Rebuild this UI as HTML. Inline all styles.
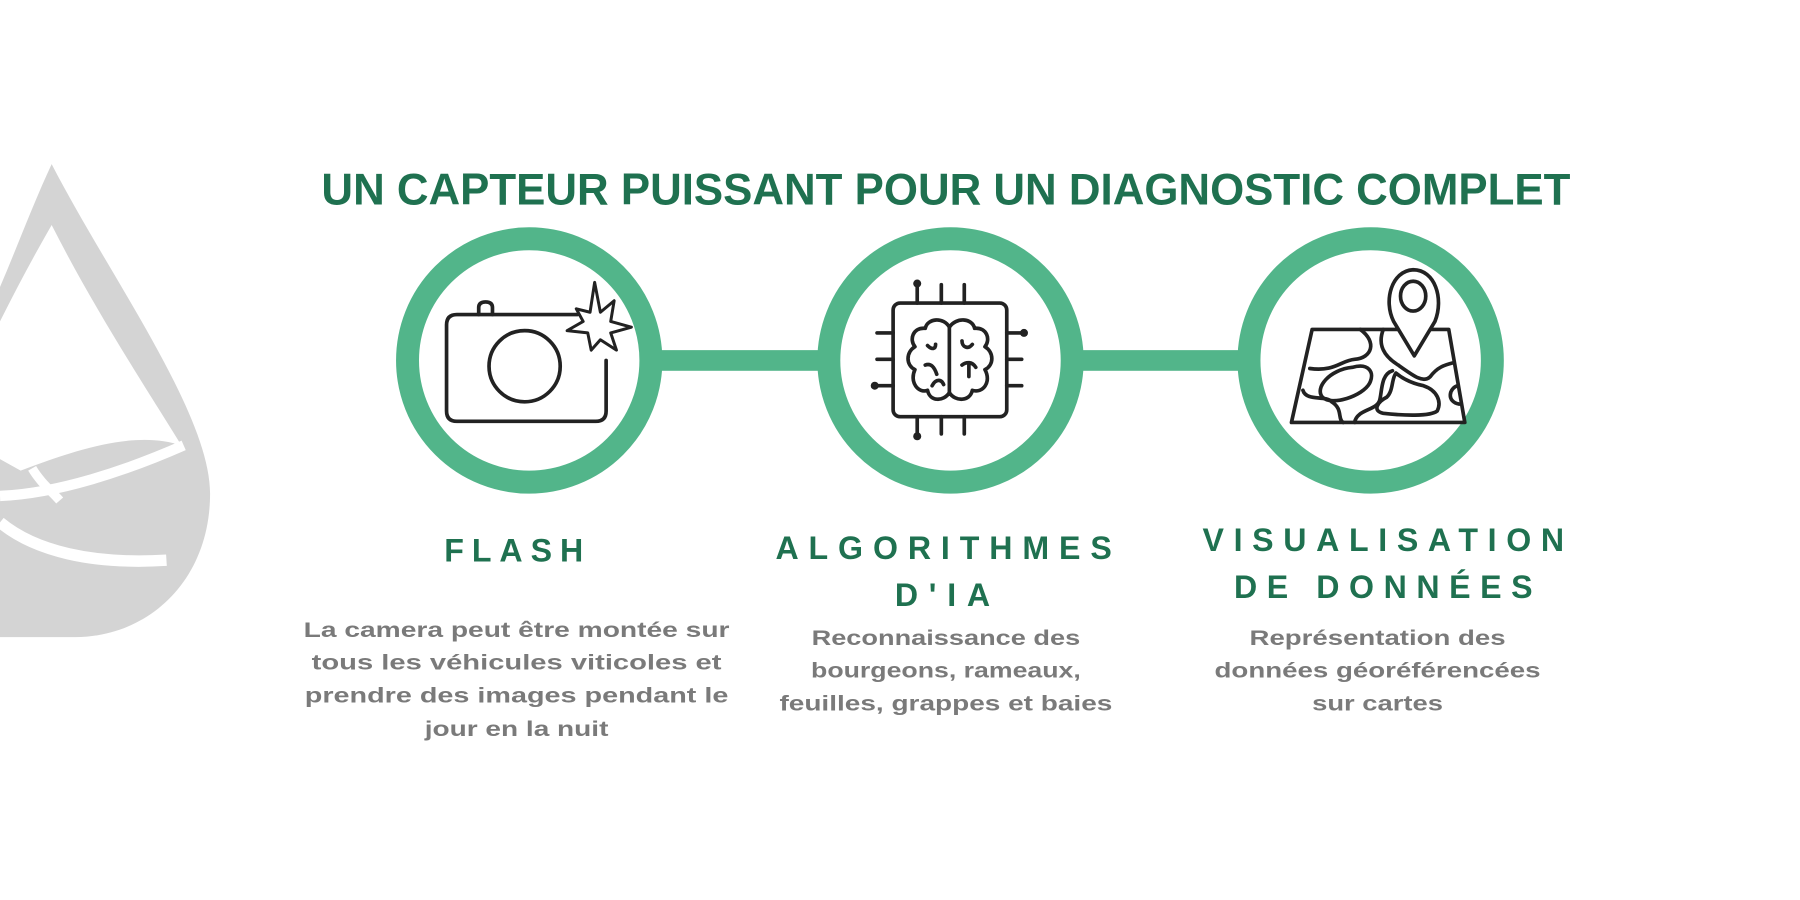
<!DOCTYPE html>
<html><head><meta charset="utf-8"><style>
html,body{margin:0;padding:0;background:#fff;width:1800px;height:900px;overflow:hidden}
svg{display:block}
.t{font-family:"Liberation Sans",sans-serif;font-weight:bold;fill:#1f7150}
.b{font-family:"Liberation Sans",sans-serif;font-weight:bold;fill:#7a7a7a;font-size:18.5px}
.h{font-family:"Liberation Sans",sans-serif;font-weight:bold;fill:#1f7150;font-size:28px}
.ic{fill:none;stroke:#222;stroke-width:3.2;stroke-linecap:round;stroke-linejoin:round}
</style></head><body>
<svg width="1800" height="900" viewBox="0 0 1568 784" xmlns="http://www.w3.org/2000/svg">
<!-- droplet -->
<path d="M45,143 C95,240 183,360 183,430 C183,505 130,555 65,555 L0,555 L0,250 C15,215 30,175 45,143 Z" fill="#d4d4d4"/>
<path d="M45,196 C85,275 135,350 158,388 C120,375 70,390 18,410 L0,400 L0,280 C15,250 30,222 45,196 Z" fill="#fff"/>
<path d="M0,432 C50,430 110,410 160,388" stroke="#fff" stroke-width="9" fill="none"/>
<path d="M28,408 C35,420 45,428 52,436" stroke="#fff" stroke-width="8" fill="none"/>
<path d="M0,455 C30,480 80,492 145,488" stroke="#fff" stroke-width="10" fill="none"/>
<!-- title -->
<text class="t" x="824" y="178" font-size="39" text-anchor="middle" textLength="1088" lengthAdjust="spacingAndGlyphs">UN CAPTEUR PUISSANT POUR UN DIAGNOSTIC COMPLET</text>
<!-- connectors -->
<rect x="560" y="305" width="720" height="18" fill="#52b58a"/>
<!-- circles -->
<circle cx="461" cy="314" r="106" fill="#fff" stroke="#52b58a" stroke-width="20"/>
<circle cx="828" cy="314" r="106" fill="#fff" stroke="#52b58a" stroke-width="20"/>
<circle cx="1194" cy="314" r="106" fill="#fff" stroke="#52b58a" stroke-width="20"/>
<!-- camera -->
<g class="ic">
<path d="M503,274 L398,274 Q389,274 389,283 L389,358 Q389,367 398,367 L519,367 Q528,367 528,358 L528,314"/>
<path d="M417,274 L417,268 Q417,263 423,263 Q429,263 429,268 L429,274"/>
<ellipse cx="457" cy="319" rx="31" ry="31"/>
<path d="M518,246 L523,272 L535,262 L532,280 L550,285 L532,290 L537,305 L523,296 L515,305 L512,290 L494,288 L508,280 L502,269 L514,272 Z" stroke-width="2.6"/>
</g>
<!-- chip -->
<g class="ic">
<rect x="778" y="264" width="99" height="99" rx="6"/>
<path d="M799,264 V248 M820,264 V248 M840,264 V248 M799,363 V378 M820,363 V378 M840,363 V378 M778,290 H764 M778,313 H764 M778,336 H764 M877,290 H890 M877,313 H890 M877,336 H890"/>
<path d="M827,285 C822,276 808,277 806,286 C795,285 792,296 797,302 C789,307 789,318 797,322 C792,333 800,343 808,340 C810,350 822,350 827,342 C832,350 845,350 847,340 C856,343 864,333 858,322 C866,318 866,307 858,302 C863,296 860,285 849,286 C847,277 833,276 827,285 Z"/>
<path d="M827,285 V342 M808,301 C812,305 815,304 815,300 M806,318 C811,316 814,320 816,326 M847,300 C843,305 838,302 838,297 M838,318 C842,315 847,315 850,320 M844,318 V328 M812,336 C815,330 820,330 822,335"/>
</g>
<g fill="#222"><circle cx="799" cy="247" r="3.5"/><circle cx="799" cy="380" r="3.5"/><circle cx="892" cy="290" r="3.5"/><circle cx="762" cy="336" r="3.5"/></g>
<!-- map -->
<g class="ic" stroke-width="2.8">
<path d="M1143,287 L1262,287 L1276,368 L1125,368 Z" fill="#fff"/>
<path d="M1185,287 C1200,298 1195,312 1180,313 C1168,314 1163,324 1141,321"/>
<path d="M1205,287 C1200,300 1205,310 1218,318 C1232,328 1240,334 1246,328 C1252,320 1258,318 1266,316"/>
<path d="M1178,320 C1192,316 1198,324 1193,334 C1187,345 1160,354 1152,346 C1145,338 1158,322 1178,320 Z"/>
<path d="M1213,323 C1203,326 1204,340 1202,348 C1200,358 1182,356 1180,368 M1135,340 C1138,350 1155,344 1160,350 C1170,356 1165,365 1170,368"/>
<path d="M1216,325 C1222,330 1230,334 1240,336 C1252,340 1256,350 1252,358 C1246,363 1222,362 1205,360 C1195,358 1200,350 1208,346 C1214,340 1212,330 1216,325 Z"/>
<path d="M1270,336 C1262,338 1260,350 1271,352"/>
<path d="M1232,310 L1214,280 C1205,262 1212,236 1231,235 C1250,235 1258,260 1250,280 Z" fill="#fff"/>
<ellipse cx="1231" cy="258" rx="11" ry="13"/>
</g>
<!-- headers -->
<text class="h" x="451" y="489" text-anchor="middle" textLength="128" lengthAdjust="spacing" letter-spacing="7">FLASH</text>
<text class="h" x="822" y="487" text-anchor="middle" textLength="293" lengthAdjust="spacing">ALGORITHMES</text>
<text class="h" x="821" y="528" text-anchor="middle" textLength="83" lengthAdjust="spacing">D'IA</text>
<text class="h" x="1205" y="480" text-anchor="middle" textLength="315" lengthAdjust="spacing">VISUALISATION</text>
<text class="h" x="1205" y="521" text-anchor="middle" textLength="260" lengthAdjust="spacing">DE DONNÉES</text>
<!-- body -->
<text class="b" x="450" y="555" text-anchor="middle" textLength="371" lengthAdjust="spacingAndGlyphs">La camera peut être montée sur</text>
<text class="b" x="450" y="583" text-anchor="middle" textLength="357" lengthAdjust="spacingAndGlyphs">tous les véhicules viticoles et</text>
<text class="b" x="450" y="612" text-anchor="middle" textLength="369" lengthAdjust="spacingAndGlyphs">prendre des images  pendant le</text>
<text class="b" x="450" y="641" text-anchor="middle" textLength="160" lengthAdjust="spacingAndGlyphs">jour en la nuit</text>
<text class="b" x="824" y="562" text-anchor="middle" textLength="234" lengthAdjust="spacingAndGlyphs">Reconnaissance des</text>
<text class="b" x="824" y="590" text-anchor="middle" textLength="235" lengthAdjust="spacingAndGlyphs">bourgeons, rameaux,</text>
<text class="b" x="824" y="619" text-anchor="middle" textLength="290" lengthAdjust="spacingAndGlyphs">feuilles, grappes et baies</text>
<text class="b" x="1200" y="562" text-anchor="middle" textLength="223" lengthAdjust="spacingAndGlyphs">Représentation des</text>
<text class="b" x="1200" y="590" text-anchor="middle" textLength="284" lengthAdjust="spacingAndGlyphs">données géoréférencées</text>
<text class="b" x="1200" y="619" text-anchor="middle" textLength="114" lengthAdjust="spacingAndGlyphs">sur cartes</text>
</svg>
</body></html>
